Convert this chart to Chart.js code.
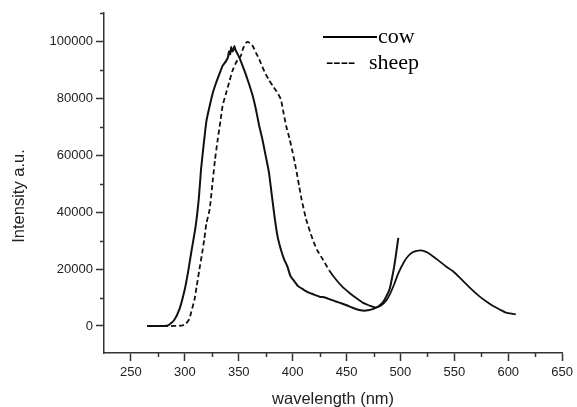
<!DOCTYPE html>
<html>
<head>
<meta charset="utf-8">
<script src="https://cdn.jsdelivr.net/npm/chart.js@4.4.1/dist/chart.umd.min.js"></script>
<style>
html, body { margin: 0; padding: 0; background: #fff; }
#wrap { width: 577px; height: 407px; }
</style>
</head>
<body>
<div id="wrap"><canvas id="myChart"></canvas></div>
<script>
// cow spectrum (solid)
const cowWavelength = [265, 270, 275, 280, 285, 290, 295, 300, 303, 306, 310, 313, 315, 318, 320, 323, 326, 329, 332, 335, 338, 340, 341, 342, 343, 344, 345, 346, 347, 349, 351, 354, 357, 360, 363, 366, 369, 372, 375, 378, 380, 383, 386, 389, 392, 395, 398, 401, 405, 410, 415, 420, 425, 430, 435, 440, 445, 450, 455, 460, 465, 470, 475, 480, 484, 487, 490, 492, 494, 496, 498];
const cowIntensity = [0, 0, 0, 0, 300, 2000, 5900, 13000, 19000, 26000, 35000, 45000, 55000, 65600, 72000, 77300, 82000, 85500, 88500, 91400, 93000, 94500, 96500, 95500, 98000, 96500, 97000, 98400, 97000, 95500, 94000, 91000, 87900, 84500, 80800, 76000, 70300, 65500, 59800, 54000, 48000, 39000, 31500, 27000, 23500, 21000, 17500, 16000, 14000, 12800, 11700, 11000, 10300, 10000, 9300, 8600, 8000, 7300, 6500, 5800, 5400, 5500, 6000, 7000, 8500, 10500, 13000, 16500, 20500, 25500, 31000];

// sheep spectrum (dashed)
const sheepWavelength = [265, 270, 280, 290, 298, 301, 304, 306, 309, 311, 313.5, 316, 318, 320, 323, 326, 328, 330.5, 333, 335, 338, 341, 344, 347.5, 350, 352, 354, 357, 359, 361, 363, 366, 369, 372, 375, 378, 381.5, 385, 389, 391, 394, 397, 400, 403, 406, 408, 412.5, 418.5, 423, 428, 434, 440, 446, 452.5, 459, 465, 471, 477, 482, 486.5, 490, 494, 498, 503, 507, 511, 515, 519, 522, 525, 530, 536, 542, 548.5, 555, 561, 567, 573, 580, 586, 592, 598, 603, 607];
const sheepIntensity = [0, 0, 0, 0, 200, 800, 2300, 5000, 9400, 14000, 19900, 25500, 30500, 36000, 41000, 51500, 58500, 65600, 72000, 77300, 81500, 85500, 89500, 92600, 94000, 95000, 97500, 99600, 99800, 99000, 98400, 96000, 93700, 91000, 88500, 86500, 84400, 82500, 79700, 76000, 70300, 66000, 61000, 55500, 49200, 45000, 37500, 30500, 26500, 23400, 19500, 16400, 13800, 11700, 9800, 8200, 7200, 6500, 7200, 8800, 11000, 14500, 18500, 22300, 24500, 25800, 26400, 26600, 26300, 25800, 24500, 22800, 21000, 19300, 17000, 14700, 12500, 10500, 8500, 7000, 5800, 4700, 4300, 4100];

const xMajorTicks = [250, 300, 350, 400, 450, 500, 550, 600, 650];
const xMinorTicks = [275, 325, 375, 425, 475, 525, 575, 625];
const yMajorTicks = [0, 20000, 40000, 60000, 80000, 100000];
const yMinorTicks = [10000, 30000, 50000, 70000, 90000, 110000];

const axisColor = '#333';

function toPoints(xs, ys) {
    return xs.map((x, i) => ({ x: x, y: ys[i] }));
}

const decorPlugin = {
    id: 'decor',
    afterDraw(chart) {
        const c = chart.ctx;
        const xs = chart.scales.x;
        const ys = chart.scales.y;
        const area = chart.chartArea;
        c.save();
        c.strokeStyle = axisColor;
        c.lineWidth = 1.5;
        // minor ticks
        xMinorTicks.forEach(v => {
            const px = Math.round(xs.getPixelForValue(v)) + 0.5;
            c.beginPath();
            c.moveTo(px, area.bottom);
            c.lineTo(px, area.bottom + 4);
            c.stroke();
        });
        yMinorTicks.forEach(v => {
            const py = Math.round(ys.getPixelForValue(v)) + 0.5;
            c.beginPath();
            c.moveTo(area.left, py);
            c.lineTo(area.left - 4, py);
            c.stroke();
        });

        // axis titles
        c.fillStyle = '#222';
        c.font = '16.5px "Liberation Sans", Arial, sans-serif';
        c.textAlign = 'center';
        c.textBaseline = 'middle';
        c.fillText('wavelength (nm)', (area.left + area.right) / 2, 399);
        c.save();
        c.translate(19, 196);
        c.rotate(-Math.PI / 2);
        c.fillText('Intensity a.u.', 0, 0);
        c.restore();

        // legend
        c.fillStyle = '#000';
        c.strokeStyle = '#000';
        c.lineWidth = 2;
        c.beginPath();
        c.moveTo(323, 37);
        c.lineTo(377, 37);
        c.stroke();
        c.font = '22px "Liberation Serif", "Times New Roman", serif';
        c.textAlign = 'left';
        c.textBaseline = 'alphabetic';
        c.fillText('cow', 378, 43);
        c.fillText('----', 326, 68);
        c.fillText('sheep', 369, 69);
        c.restore();
    }
};

new Chart(
    document.getElementById('myChart'),
    {
        type: 'line',
        data: {
            datasets: [
                {
                    label: 'cow',
                    data: toPoints(cowWavelength, cowIntensity),
                    borderColor: '#111',
                    borderWidth: 2,
                    pointRadius: 0,
                    tension: 0.15
                },
                {
                    label: 'sheep',
                    data: toPoints(sheepWavelength, sheepIntensity),
                    borderColor: '#111',
                    borderWidth: 1.8,
                    pointRadius: 0,
                    tension: 0.2,
                    segment: {
                        borderDash: s => s.p0.parsed.x < 430 ? [5, 3] : []
                    }
                }
            ]
        },
        options: {
            responsive: true,
            maintainAspectRatio: false,
            animation: false,
            layout: {
                padding: { top: 13, right: 12, left: 0, bottom: 0 }
            },
            scales: {
                x: {
                    type: 'linear',
                    min: 225,
                    max: 650,
                    afterFit: s => { s.height = 54; },
                    afterBuildTicks: s => { s.ticks = xMajorTicks.map(v => ({ value: v })); },
                    grid: {
                        drawOnChartArea: false,
                        tickLength: 8,
                        tickColor: axisColor,
                        tickWidth: 1.5
                    },
                    border: { color: axisColor, width: 1.5 },
                    ticks: {
                        color: '#222',
                        padding: 4,
                        maxRotation: 0,
                        font: { family: '"Liberation Sans", Arial, sans-serif', size: 13 },
                        callback: v => String(v)
                    }
                },
                y: {
                    min: -9500,
                    max: 110000,
                    afterFit: s => { s.width = 104; },
                    afterBuildTicks: s => { s.ticks = yMajorTicks.map(v => ({ value: v })); },
                    grid: {
                        drawOnChartArea: false,
                        tickLength: 8,
                        tickColor: axisColor,
                        tickWidth: 1.5
                    },
                    border: { color: axisColor, width: 1.5 },
                    ticks: {
                        color: '#222',
                        padding: 3,
                        font: { family: '"Liberation Sans", Arial, sans-serif', size: 13 },
                        callback: v => String(v)
                    }
                }
            },
            plugins: {
                legend: { display: false },
                tooltip: { enabled: false }
            }
        },
        plugins: [decorPlugin]
    }
);
</script>
</body>
</html>
